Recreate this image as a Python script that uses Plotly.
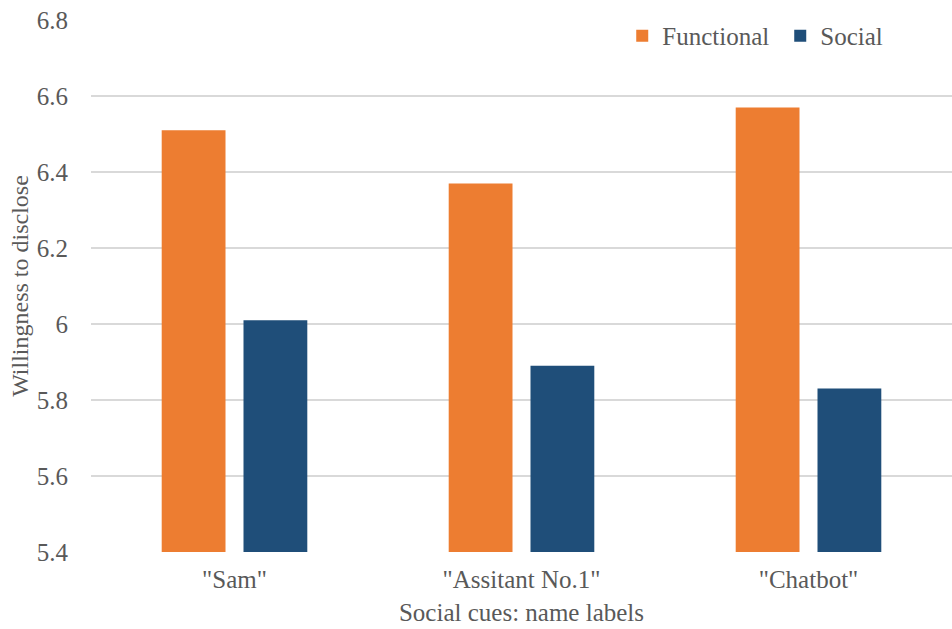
import plotly.graph_objects as go

categories = ['"Sam"', '"Assitant No.1"', '"Chatbot"']
functional = [6.51, 6.37, 6.57]
social = [6.01, 5.89, 5.83]

y_ticks = [5.4, 5.6, 5.8, 6.0, 6.2, 6.4, 6.6, 6.8]
y_tick_text = ["5.4", "5.6", "5.8", "6", "6.2", "6.4", "6.6", "6.8"]

FONT = "Liberation Serif"
GREY = "#595959"


def serif(size):
    return dict(family=FONT, size=size, color=GREY)


fig = go.Figure()
fig.add_trace(go.Bar(name="Functional", x=categories, y=functional,
                     marker=dict(color="#ED7D31", line=dict(width=0))))
fig.add_trace(go.Bar(name="Social", x=categories, y=social,
                     marker=dict(color="#1F4E79", line=dict(width=0))))

fig.update_layout(
    width=952, height=629,
    margin=dict(l=91, r=0, t=20, b=77, autoexpand=False),
    paper_bgcolor="white", plot_bgcolor="white",
    barmode="group", bargap=0.43, bargroupgap=0.22,
    font=serif(25),
    legend=dict(orientation="h", x=0.617, xanchor="left", y=0.97, yanchor="middle",
                font=serif(25), bgcolor="rgba(0,0,0,0)", itemwidth=30,
                entrywidth=113, entrywidthmode="pixels",
                traceorder="normal"),
    xaxis=dict(showline=False, ticks="", tickfont=serif(25),
               ticklabelstandoff=10,
               title=dict(text="Social cues: name labels", font=serif(25), standoff=11)),
    yaxis=dict(range=[5.4, 6.8], tickvals=y_ticks, ticktext=y_tick_text,
               showgrid=True, gridcolor="#D9D9D9", gridwidth=1.5,
               zeroline=False, showline=False, ticks="",
               tickfont=serif(25), ticklabelstandoff=22,
               title=dict(text="Willingness to disclose", font=serif(24), standoff=1)),
)

fig.write_html("out.html")
